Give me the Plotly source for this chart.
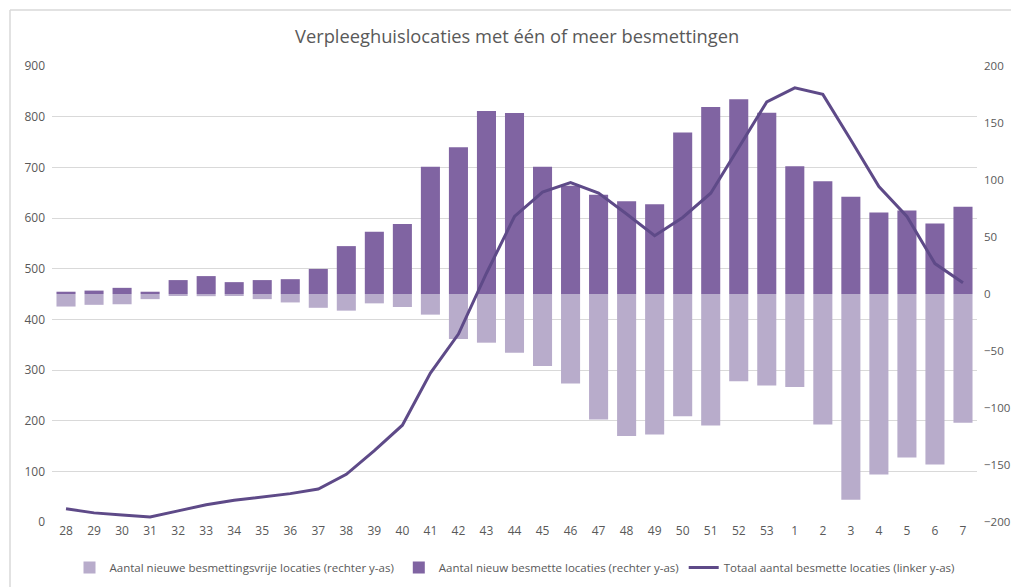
import plotly.graph_objects as go

weeks = ["28","29","30","31","32","33","34","35","36","37","38","39","40","41","42","43","44","45",
         "46","47","48","49","50","51","52","53","1","2","3","4","5","6","7"]

nieuw_besmet = [2, 3, 5.4, 2, 12.2, 15.7, 10.4, 12.2, 13, 22, 42, 54.7, 61.4, 111.7, 128.7, 160.5, 158.8, 111.7,
                95, 87.1, 81.3, 78.8, 141.6, 164.1, 170.8, 159.1, 112.1, 99, 85.3, 71.5, 73.3, 61.9, 76.5]

besmettingsvrij = [-11, -9.5, -9, -4.5, -1, -1.9, -1.6, -4.5, -7.4, -12.1, -14.6, -8.2, -11.4, -18.1, -39.5, -42.7,
                   -51.5, -63.2, -78.4, -110, -124.6, -123.3, -107.2, -115.3, -76.5, -80.3, -81.5, -114.5,
                   -180.5, -158.3, -143.4, -149.5, -113]

totaal = [26, 18, 14, 10, 22, 34, 43, 50, 56, 65, 94, 141, 191, 294, 371, 491, 603, 651, 670, 649, 608, 565,
          601, 649, 740, 829, 857, 844, 754, 662, 603, 510, 472]

light = "#B8ACCB"
dark = "#8064A2"
linec = "#5E4A88"
txt = "#595959"

fig = go.Figure()
fig.add_trace(go.Bar(x=weeks, y=besmettingsvrij, name="Aantal nieuwe besmettingsvrije locaties (rechter y-as)",
                     marker=dict(color=light, line=dict(width=0)), yaxis="y"))
fig.add_trace(go.Bar(x=weeks, y=nieuw_besmet, name="Aantal nieuw besmette locaties (rechter y-as)",
                     marker=dict(color=dark, line=dict(width=0)), yaxis="y"))
fig.add_trace(go.Scatter(x=weeks, y=totaal, name="Totaal aantal besmette locaties (linker y-as)",
                         mode="lines", line=dict(color=linec, width=3), yaxis="y2"))

fig.update_layout(
    width=1011, height=587,
    paper_bgcolor="white", plot_bgcolor="white",
    margin=dict(l=52, r=34, t=66, b=65, autoexpand=False),
    title=dict(text="Verpleeghuislocaties met één of meer besmettingen", x=0.5115, xanchor="center",
               xref="container", y=0.937, yanchor="middle",
               font=dict(family="Open Sans", size=18.3, color=txt)),
    font=dict(family="Open Sans", size=12, color=txt),
    barmode="relative", bargap=0.32,
    showlegend=True,
    legend=dict(orientation="h", x=0.5, xanchor="center", y=-0.1, yanchor="middle",
                traceorder="normal", font=dict(size=11.5, color=txt), itemwidth=30),
    xaxis=dict(type="category", showgrid=False, showline=False, ticks="",
               tickfont=dict(size=12, color=txt), zeroline=False),
    yaxis=dict(range=[-200, 200], dtick=50, side="right", showgrid=False, zeroline=False,
               tickfont=dict(size=11.5, color=txt), ticks="", showline=False, ticklabelstandoff=6),
    yaxis2=dict(range=[0, 900], dtick=100, side="left", overlaying="y", showgrid=True,
                gridcolor="#D9D9D9", gridwidth=1, zeroline=False,
                tickfont=dict(size=12, color=txt), ticks="", showline=False, ticklabelstandoff=6),
    shapes=[
        dict(type="line", xref="paper", yref="paper", x0=-0.0454, x1=-0.0454, y0=-0.2, y1=1.1228,
             line=dict(color="#D9D9D9", width=1.5)),
        dict(type="line", xref="paper", yref="paper", x0=-0.0454, x1=1.1, y0=1.1228, y1=1.1228,
             line=dict(color="#D9D9D9", width=1.5)),
    ],
)

fig.write_html("out.html", config={"displayModeBar": False},
               post_script="document.body.style.margin='0px';document.body.style.overflow='hidden';")
